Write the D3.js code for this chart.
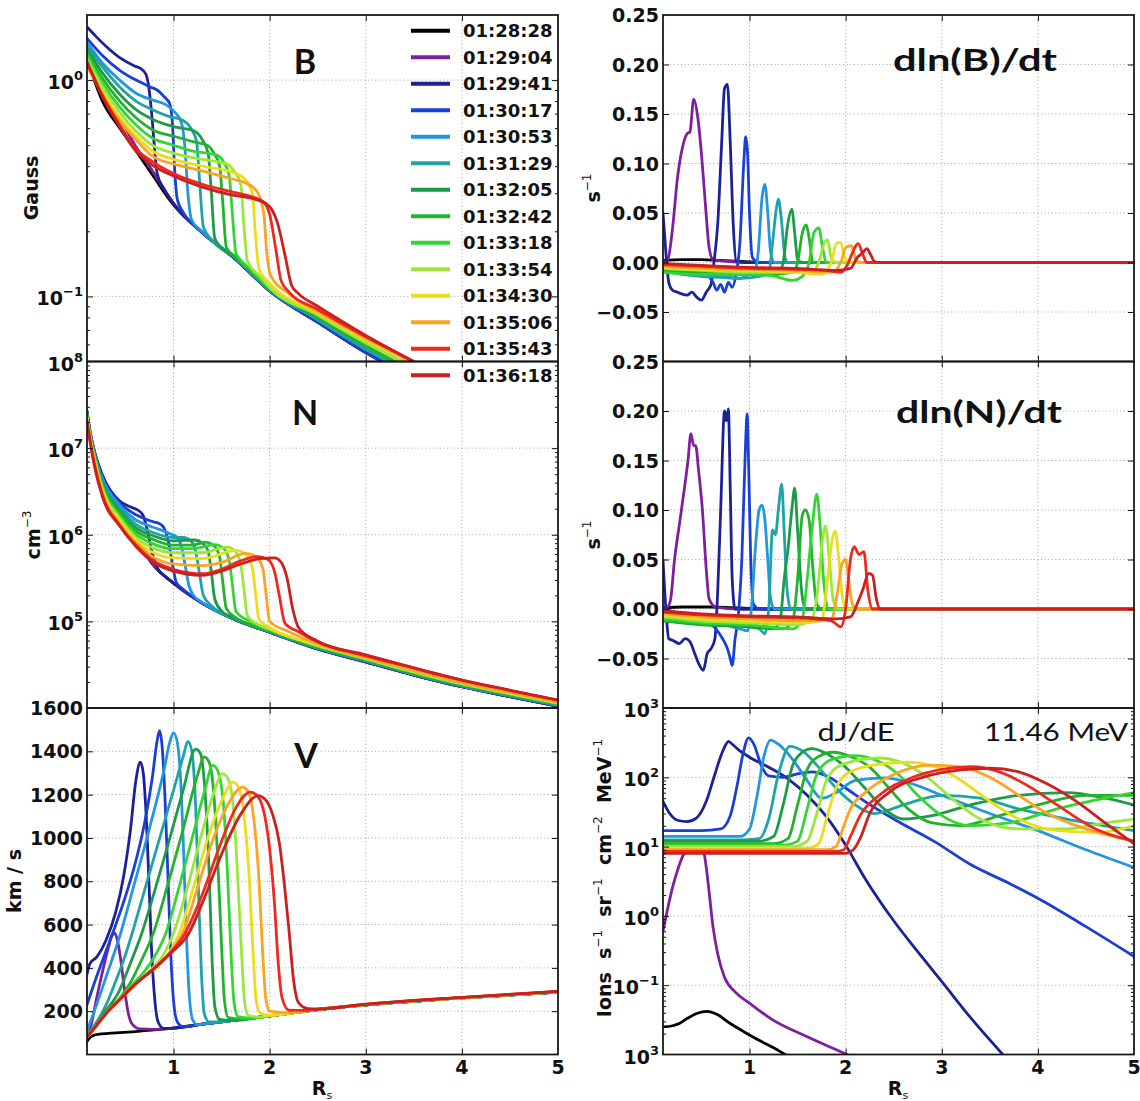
<!DOCTYPE html>
<html><head><meta charset="utf-8">
<script src="https://cdn.jsdelivr.net/npm/d3@7"></script>
<style>body{margin:0;background:#fff}svg{display:block}</style>
</head><body>
<svg id="chart" width="1140" height="1101"></svg>
<script>
// ---------------- DATA ----------------
const times = ["01:28:28","01:29:04","01:29:41","01:30:17","01:30:53","01:31:29","01:32:05","01:32:42","01:33:18","01:33:54","01:34:30","01:35:06","01:35:43","01:36:18"];
const colors = ["#000000","#7d1f9e","#1c2296","#1b3fd6","#2396dc","#1fa3a6","#1e9b46","#23b22c","#35d435","#9be83a","#ecdc1c","#fba323","#ee2a1f","#cc1f1f"];
const xTicks = [1,2,3,4,5];
const xGrid = [1,2,3,4];

const B_ticks = [0.1,1];
const B_labels = [["10","\u22121"],["10","0"]];
const N_ticks = [1e5,1e6,1e7,1e8];
const N_labels = [["10","5"],["10","6"],["10","7"],["10","8"]];
const V_ticks = [200,400,600,800,1000,1200,1400,1600];
const V_labels = ["200","400","600","800","1000","1200","1400","1600"];
const dB_ticks = [-0.05,0,0.05,0.10,0.15,0.20,0.25];
const dB_labels = ["\u22120.05","0.00","0.05","0.10","0.15","0.20","0.25"];
const dN_ticks = [-0.05,0,0.05,0.10,0.15,0.20,0.25];
const dN_labels = ["\u22120.05","0.00","0.05","0.10","0.15","0.20","0.25"];
const J_ticks = [1e-2,1e-1,1,10,100,1000];
const J_labels = [["10","3"],["10","\u22121"],["10","0"],["10","1"],["10","2"],["10","3"]];

const B_data = [
 [[0.1,1.25],[0.26,0.8],[0.44,0.6],[0.61,0.47],[0.78,0.365],[1.0,0.265],[1.3,0.197],[1.65,0.148],[2.0,0.106],[2.5,0.076],[3.0,0.055],[3.5,0.042]],
 [[0.1,1.3],[0.26,0.86],[0.4,0.7],[0.5,0.6],[0.6,0.5],[0.75,0.4],[0.85,0.34],[1.0,0.27],[1.3,0.198],[1.65,0.148],[2.0,0.106],[2.5,0.076],[3.0,0.055],[3.5,0.042]],
 [[0.1,1.76],[0.2,1.58],[0.3,1.43],[0.44,1.27],[0.6,1.16],[0.66,1.13],[0.71,1.07],[0.74,0.95],[0.77,0.72],[0.8,0.5],[0.83,0.37],[0.9,0.315],[1.0,0.268],[1.3,0.197],[1.65,0.148],[2.0,0.106],[2.5,0.076],[3.0,0.055],[3.5,0.042]],
 [[0.1,1.56],[0.26,1.3],[0.44,1.11],[0.61,1.0],[0.76,0.93],[0.83,0.9],[0.9,0.84],[0.96,0.78],[0.99,0.62],[1.01,0.4],[1.04,0.28],[1.1,0.245],[1.3,0.197],[1.65,0.148],[2.0,0.106],[2.5,0.076],[3.0,0.055],[3.5,0.042]],
 [[0.1,1.5],[0.26,1.2],[0.44,1.0],[0.61,0.87],[0.78,0.81],[0.92,0.77],[1.0,0.72],[1.08,0.64],[1.12,0.48],[1.15,0.3],[1.19,0.225],[1.3,0.199],[1.65,0.149],[2.0,0.107],[2.5,0.078],[3.0,0.057],[3.5,0.044]],
 [[0.1,1.45],[0.26,1.15],[0.44,0.93],[0.61,0.8],[0.78,0.73],[0.95,0.68],[1.1,0.65],[1.18,0.6],[1.24,0.52],[1.27,0.35],[1.31,0.21],[1.4,0.182],[1.65,0.15],[2.0,0.107],[2.5,0.078],[3.0,0.057],[3.5,0.044]],
 [[0.1,1.4],[0.26,1.08],[0.44,0.86],[0.61,0.73],[0.78,0.66],[1.0,0.61],[1.22,0.58],[1.3,0.53],[1.36,0.46],[1.39,0.32],[1.43,0.185],[1.5,0.168],[1.65,0.151],[2.0,0.108],[2.5,0.08],[3.0,0.059],[3.5,0.045]],
 [[0.1,1.35],[0.26,1.02],[0.44,0.8],[0.61,0.67],[0.78,0.59],[1.0,0.55],[1.2,0.52],[1.35,0.5],[1.42,0.46],[1.48,0.4],[1.51,0.28],[1.55,0.168],[1.65,0.152],[2.0,0.108],[2.5,0.08],[3.0,0.059],[3.5,0.045]],
 [[0.1,1.3],[0.26,0.97],[0.44,0.75],[0.61,0.62],[0.78,0.54],[1.0,0.5],[1.2,0.47],[1.45,0.45],[1.52,0.42],[1.58,0.36],[1.61,0.25],[1.65,0.158],[1.8,0.134],[2.0,0.109],[2.5,0.082],[3.0,0.061],[3.5,0.047]],
 [[0.1,1.25],[0.26,0.93],[0.44,0.71],[0.61,0.58],[0.78,0.5],[1.0,0.46],[1.3,0.43],[1.55,0.41],[1.63,0.38],[1.7,0.33],[1.73,0.22],[1.77,0.145],[1.9,0.124],[2.0,0.11],[2.5,0.082],[3.0,0.061],[3.5,0.047]],
 [[0.1,1.15],[0.26,0.88],[0.44,0.67],[0.61,0.55],[0.78,0.47],[1.0,0.43],[1.3,0.4],[1.65,0.37],[1.75,0.345],[1.82,0.3],[1.85,0.2],[1.89,0.133],[2.0,0.115],[2.5,0.084],[3.0,0.063],[3.5,0.049]],
 [[0.1,1.18],[0.26,0.86],[0.44,0.65],[0.61,0.53],[0.78,0.445],[1.0,0.41],[1.3,0.38],[1.6,0.35],[1.78,0.33],[1.88,0.3],[1.94,0.24],[1.97,0.16],[2.01,0.125],[2.2,0.103],[2.5,0.085],[3.0,0.064],[3.5,0.049]],
 [[0.1,1.2],[0.26,0.85],[0.44,0.62],[0.61,0.48],[0.78,0.42],[1.0,0.37],[1.3,0.33],[1.6,0.305],[1.8,0.29],[1.93,0.275],[2.0,0.24],[2.06,0.17],[2.12,0.118],[2.2,0.105],[2.5,0.087],[3.0,0.065],[3.5,0.05]],
 [[0.1,1.22],[0.26,0.84],[0.44,0.61],[0.61,0.47],[0.78,0.405],[1.0,0.36],[1.3,0.32],[1.6,0.295],[1.8,0.285],[1.98,0.265],[2.08,0.22],[2.16,0.155],[2.23,0.112],[2.3,0.103],[2.5,0.09],[3.0,0.066],[3.5,0.05]]
];

const N_data = [
 [[0.1,2.6e7],[0.13,1.55e7],[0.18,8.5e6],[0.26,4.7e6],[0.44,2.0e6],[0.61,9.5e5],[0.78,4.6e5],[1.0,2.76e5],[1.3,1.62e5],[1.65,1.04e5],[2.0,7.5e4],[2.5,4.8e4],[3.0,3.4e4],[3.5,2.4e4],[4.0,1.76e4],[4.5,1.35e4],[5.0,1.05e4]],
 [[0.1,2.6e7],[0.13,1.55e7],[0.18,8.6e6],[0.26,4.8e6],[0.35,3.0e6],[0.44,2.1e6],[0.52,1.35e6],[0.6,9.5e5],[0.78,4.6e5],[1.0,2.76e5],[1.3,1.62e5],[1.65,1.04e5],[2.0,7.5e4],[2.5,4.8e4],[3.0,3.4e4],[3.5,2.4e4],[4.0,1.76e4],[4.5,1.35e4],[5.0,1.05e4]],
 [[0.1,2.7e7],[0.13,1.6e7],[0.18,9e6],[0.26,4.9e6],[0.44,2.45e6],[0.55,2.1e6],[0.62,1.95e6],[0.68,1.7e6],[0.73,1.1e6],[0.78,6e5],[0.84,4e5],[0.9,3.4e5],[1.0,2.76e5],[1.3,1.62e5],[1.65,1.04e5],[2.0,7.5e4],[2.5,4.8e4],[3.0,3.4e4],[3.5,2.4e4],[4.0,1.76e4],[4.5,1.35e4],[5.0,1.05e4]],
 [[0.1,2.63e7],[0.13,1.58e7],[0.18,8.8e6],[0.26,4.68e6],[0.44,2.34e6],[0.61,1.7e6],[0.72,1.5e6],[0.8,1.4e6],[0.85,1.35e6],[0.9,1.2e6],[0.95,8e5],[0.99,4.5e5],[1.03,2.8e5],[1.1,2.35e5],[1.3,1.63e5],[1.65,1.04e5],[2.0,7.5e4],[2.5,4.8e4],[3.0,3.4e4],[3.5,2.4e4],[4.0,1.76e4],[4.5,1.35e4],[5.0,1.05e4]],
 [[0.1,2.57e7],[0.13,1.55e7],[0.18,8.5e6],[0.26,4.47e6],[0.44,2.19e6],[0.61,1.48e6],[0.78,1.23e6],[0.9,1.1e6],[0.97,1.02e6],[1.03,9.5e5],[1.08,7.5e5],[1.12,4.5e5],[1.16,2.6e5],[1.2,2.05e5],[1.3,1.65e5],[1.65,1.05e5],[2.0,7.6e4],[2.5,4.9e4],[3.0,3.5e4],[3.5,2.45e4],[4.0,1.8e4],[4.5,1.38e4],[5.0,1.08e4]],
 [[0.1,2.5e7],[0.13,1.5e7],[0.18,8.3e6],[0.26,4.17e6],[0.44,2.04e6],[0.61,1.32e6],[0.78,1.07e6],[1.0,9.3e5],[1.1,9.3e5],[1.18,8.5e5],[1.23,6.5e5],[1.27,3.6e5],[1.31,2e5],[1.4,1.5e5],[1.65,1.05e5],[2.0,7.6e4],[2.5,4.9e4],[3.0,3.5e4],[3.5,2.45e4],[4.0,1.8e4],[4.5,1.38e4],[5.0,1.08e4]],
 [[0.1,2.45e7],[0.13,1.48e7],[0.18,8.1e6],[0.26,3.98e6],[0.44,1.9e6],[0.61,1.2e6],[0.78,9.8e5],[1.0,8.5e5],[1.22,8.7e5],[1.3,8e5],[1.36,6.5e5],[1.39,4e5],[1.43,1.8e5],[1.5,1.32e5],[1.65,1.07e5],[2.0,7.8e4],[2.5,5e4],[3.0,3.6e4],[3.5,2.5e4],[4.0,1.85e4],[4.5,1.42e4],[5.0,1.1e4]],
 [[0.1,2.4e7],[0.13,1.45e7],[0.18,7.9e6],[0.26,3.8e6],[0.44,1.78e6],[0.61,1.1e6],[0.78,8.9e5],[1.0,7.6e5],[1.2,7.6e5],[1.33,8.2e5],[1.42,7.5e5],[1.48,5.5e5],[1.51,3e5],[1.55,1.4e5],[1.65,1.1e5],[2.0,7.8e4],[2.5,5e4],[3.0,3.6e4],[3.5,2.5e4],[4.0,1.85e4],[4.5,1.42e4],[5.0,1.1e4]],
 [[0.1,2.34e7],[0.13,1.42e7],[0.18,7.7e6],[0.26,3.63e6],[0.44,1.66e6],[0.61,1.02e6],[0.78,7.9e5],[1.0,6.9e5],[1.2,6.9e5],[1.43,7.7e5],[1.52,7e5],[1.58,5e5],[1.61,2.8e5],[1.65,1.3e5],[1.8,1e5],[2.0,8e4],[2.5,5.2e4],[3.0,3.7e4],[3.5,2.6e4],[4.0,1.9e4],[4.5,1.46e4],[5.0,1.13e4]],
 [[0.1,2.29e7],[0.13,1.38e7],[0.18,7.4e6],[0.26,3.39e6],[0.44,1.55e6],[0.61,9.3e5],[0.78,7.1e5],[1.0,6.2e5],[1.3,6.2e5],[1.55,7.2e5],[1.64,6.5e5],[1.7,4.5e5],[1.73,2.5e5],[1.77,1.15e5],[1.9,9e4],[2.0,8.1e4],[2.5,5.2e4],[3.0,3.7e4],[3.5,2.6e4],[4.0,1.9e4],[4.5,1.46e4],[5.0,1.13e4]],
 [[0.1,2.24e7],[0.13,1.35e7],[0.18,7.1e6],[0.26,3.24e6],[0.44,1.45e6],[0.61,8.7e5],[0.78,6.3e5],[1.0,5.4e5],[1.3,5.3e5],[1.65,6.6e5],[1.75,6e5],[1.82,4.2e5],[1.85,2.3e5],[1.89,1.05e5],[2.0,8.5e4],[2.5,5.4e4],[3.0,3.8e4],[3.5,2.7e4],[4.0,1.95e4],[4.5,1.5e4],[5.0,1.17e4]],
 [[0.1,2.14e7],[0.13,1.3e7],[0.18,6.8e6],[0.26,3.09e6],[0.44,1.35e6],[0.61,8.1e5],[0.78,5.6e5],[1.0,4.6e5],[1.3,4.4e5],[1.5,4.8e5],[1.75,6.1e5],[1.86,5.6e5],[1.93,4e5],[1.96,2.2e5],[2.0,1e5],[2.2,7.6e4],[2.5,5.5e4],[3.0,3.8e4],[3.5,2.7e4],[4.0,1.95e4],[4.5,1.5e4],[5.0,1.17e4]],
 [[0.1,2.09e7],[0.13,1.25e7],[0.18,6.3e6],[0.26,2.88e6],[0.44,1.29e6],[0.61,7.6e5],[0.78,5.1e5],[1.0,4e5],[1.3,3.55e5],[1.5,4e5],[1.7,5e5],[1.88,5.6e5],[1.98,5.2e5],[2.05,3.8e5],[2.1,2e5],[2.16,9.5e4],[2.3,7.6e4],[2.5,5.8e4],[3.0,4e4],[3.5,2.9e4],[4.0,2.1e4],[4.5,1.6e4],[5.0,1.23e4]],
 [[0.1,2.04e7],[0.13,1.22e7],[0.18,6e6],[0.26,2.75e6],[0.44,1.26e6],[0.61,7.3e5],[0.78,4.9e5],[1.0,3.8e5],[1.3,3.4e5],[1.5,3.8e5],[1.7,4.6e5],[1.9,5.3e5],[2.05,5.4e5],[2.12,4.8e5],[2.18,3.2e5],[2.24,1.4e5],[2.3,8.5e4],[2.5,5.9e4],[3.0,4.1e4],[3.5,2.9e4],[4.0,2.1e4],[4.5,1.6e4],[5.0,1.23e4]]
];

const V_data = [
 [[0.1,60],[0.13,78],[0.18,90],[0.25,95],[0.4,100],[0.6,106],[0.8,114],[1.0,122],[1.3,140],[1.6,156],[2.0,178],[2.5,207],[3.0,229],[4.0,261],[5.0,288]],
 [[0.1,80],[0.15,150],[0.2,260],[0.26,380],[0.32,490],[0.36,550],[0.39,560],[0.42,520],[0.45,440],[0.49,300],[0.53,190],[0.57,140],[0.65,118],[0.8,116],[1.0,122],[1.3,140],[1.6,156],[2.0,178],[2.5,207],[3.0,229],[4.0,261],[5.0,288]],
 [[0.1,370],[0.13,420],[0.2,450],[0.3,530],[0.4,660],[0.48,820],[0.55,1030],[0.61,1270],[0.655,1350],[0.685,1300],[0.71,1150],[0.74,850],[0.77,500],[0.8,280],[0.84,150],[0.9,120],[1.0,122],[1.3,140],[1.6,156],[2.0,178],[2.5,207],[3.0,229],[4.0,261],[5.0,288]],
 [[0.1,230],[0.2,360],[0.3,480],[0.4,600],[0.5,730],[0.6,880],[0.7,1070],[0.78,1280],[0.83,1450],[0.855,1495],[0.88,1430],[0.91,1200],[0.94,850],[0.97,480],[1.0,250],[1.04,150],[1.1,128],[1.3,140],[1.6,156],[2.0,178],[2.5,207],[3.0,229],[4.0,261],[5.0,288]],
 [[0.1,110],[0.2,230],[0.3,360],[0.45,560],[0.6,800],[0.7,960],[0.8,1130],[0.9,1310],[0.96,1440],[1.0,1485],[1.04,1440],[1.07,1300],[1.1,1000],[1.13,600],[1.16,300],[1.2,160],[1.25,137],[1.3,140],[1.6,156],[2.0,178],[2.5,207],[3.0,229],[4.0,261],[5.0,288]],
 [[0.1,90],[0.2,150],[0.3,230],[0.4,340],[0.5,460],[0.57,560],[0.7,760],[0.85,990],[1.0,1220],[1.1,1375],[1.15,1446],[1.19,1400],[1.23,1150],[1.26,750],[1.29,380],[1.32,190],[1.37,150],[1.5,151],[1.6,156],[2.0,178],[2.5,207],[3.0,229],[4.0,261],[5.0,288]],
 [[0.1,85],[0.2,140],[0.3,205],[0.42,280],[0.55,420],[0.67,560],[0.8,750],[0.95,980],[1.1,1220],[1.23,1410],[1.28,1390],[1.33,1200],[1.37,850],[1.4,450],[1.43,220],[1.48,162],[1.6,157],[2.0,178],[2.5,207],[3.0,229],[4.0,261],[5.0,288]],
 [[0.1,82],[0.2,137],[0.3,195],[0.45,265],[0.55,330],[0.65,420],[0.79,560],[0.95,800],[1.1,1040],[1.25,1290],[1.32,1374],[1.37,1350],[1.42,1200],[1.46,900],[1.5,500],[1.53,250],[1.57,170],[1.7,163],[2.0,179],[2.5,207],[3.0,229],[4.0,261],[5.0,289]],
 [[0.1,80],[0.2,136],[0.3,192],[0.45,260],[0.6,335],[0.7,385],[0.8,450],[0.92,560],[1.05,760],[1.2,1010],[1.32,1210],[1.41,1335],[1.46,1310],[1.52,1150],[1.56,850],[1.6,450],[1.63,240],[1.67,175],[1.8,168],[2.0,179],[2.5,207],[3.0,230],[4.0,262],[5.0,289]],
 [[0.1,80],[0.2,135],[0.3,190],[0.45,258],[0.62,333],[0.75,385],[0.88,450],[1.0,560],[1.15,780],[1.3,1030],[1.42,1210],[1.51,1297],[1.57,1270],[1.63,1100],[1.67,800],[1.71,450],[1.74,240],[1.78,180],[1.9,173],[2.0,179],[2.5,208],[3.0,230],[4.0,262],[5.0,289]],
 [[0.1,80],[0.2,135],[0.3,190],[0.45,258],[0.62,332],[0.79,393],[0.95,465],[1.06,560],[1.2,760],[1.35,990],[1.5,1170],[1.62,1258],[1.68,1230],[1.74,1080],[1.79,800],[1.83,450],[1.86,250],[1.9,192],[2.0,181],[2.5,208],[3.0,230],[4.0,262],[5.0,290]],
 [[0.1,80],[0.2,135],[0.3,190],[0.45,258],[0.62,332],[0.79,393],[0.97,475],[1.1,565],[1.25,770],[1.4,980],[1.55,1140],[1.72,1235],[1.78,1210],[1.84,1070],[1.89,800],[1.93,450],[1.96,260],[2.0,200],[2.2,192],[2.5,208],[3.0,231],[4.0,263],[5.0,290]],
 [[0.1,80],[0.2,135],[0.3,190],[0.45,258],[0.62,332],[0.79,395],[0.97,472],[1.12,560],[1.3,740],[1.5,985],[1.65,1140],[1.8,1212],[1.88,1190],[1.95,1100],[2.0,950],[2.05,700],[2.09,420],[2.13,260],[2.2,205],[2.4,204],[2.5,209],[3.0,231],[4.0,263],[5.0,291]],
 [[0.1,80],[0.2,135],[0.3,190],[0.45,258],[0.62,332],[0.79,393],[0.97,468],[1.16,560],[1.3,700],[1.5,925],[1.7,1110],[1.88,1195],[1.95,1180],[2.03,1110],[2.1,980],[2.15,800],[2.2,580],[2.25,340],[2.3,240],[2.4,212],[2.5,210],[3.0,232],[4.0,264],[5.0,292]]
];

const dlnB_data = [
 [[0.1,0.002],[0.3,0.003],[0.5,0.003],[0.7,0.002],[0.9,0.001],[1.2,0],[5,0]],
 [[0.1,0.0],[0.15,0.003],[0.2,0.035],[0.25,0.085],[0.3,0.115],[0.35,0.13],[0.38,0.132],[0.42,0.165],[0.46,0.148],[0.5,0.11],[0.54,0.06],[0.58,0.015],[0.62,0.003],[0.8,0.001],[1.0,0],[5,0]],
 [[0.1,0.05],[0.13,0.01],[0.16,-0.02],[0.2,-0.028],[0.25,-0.03],[0.3,-0.032],[0.35,-0.033],[0.4,-0.03],[0.45,-0.035],[0.5,-0.038],[0.55,-0.03],[0.6,-0.022],[0.63,0.0],[0.67,0.04],[0.71,0.12],[0.74,0.176],[0.77,0.18],[0.8,0.12],[0.83,0.04],[0.86,0.002],[0.95,0],[5,0]],
 [[0.1,0.0],[0.2,-0.005],[0.4,-0.008],[0.55,-0.012],[0.62,-0.02],[0.66,-0.028],[0.7,-0.022],[0.74,-0.03],[0.78,-0.02],[0.82,-0.025],[0.86,-0.012],[0.9,0.02],[0.94,0.1],[0.96,0.127],[0.98,0.11],[1.0,0.05],[1.03,0.005],[1.1,0],[5,0]],
 [[0.1,-0.005],[0.3,-0.01],[0.5,-0.012],[0.7,-0.014],[0.9,-0.016],[1.0,-0.012],[1.05,-0.01],[1.09,0.01],[1.13,0.065],[1.16,0.079],[1.19,0.05],[1.22,0.01],[1.26,0.0],[5,0]],
 [[0.1,-0.008],[0.3,-0.012],[0.5,-0.014],[0.7,-0.015],[0.9,-0.016],[1.1,-0.014],[1.2,-0.01],[1.24,0.02],[1.28,0.055],[1.3,0.064],[1.33,0.045],[1.37,0.005],[1.4,0],[5,0]],
 [[0.1,-0.006],[0.4,-0.01],[0.8,-0.012],[1.1,-0.012],[1.3,-0.012],[1.35,0.0],[1.4,0.04],[1.44,0.054],[1.47,0.03],[1.5,0.003],[1.55,0],[5,0]],
 [[0.1,-0.008],[0.4,-0.01],[0.8,-0.01],[1.2,-0.012],[1.45,-0.01],[1.5,0.0],[1.55,0.03],[1.59,0.038],[1.62,0.025],[1.66,0.0],[1.7,0],[5,0]],
 [[0.1,-0.01],[0.4,-0.012],[0.8,-0.012],[1.2,-0.013],[1.45,-0.018],[1.55,-0.014],[1.62,0.0],[1.67,0.03],[1.72,0.035],[1.76,0.015],[1.8,0.0],[5,0]],
 [[0.1,-0.006],[0.5,-0.008],[1.0,-0.01],[1.4,-0.01],[1.65,-0.01],[1.72,0.0],[1.78,0.02],[1.81,0.023],[1.85,0.005],[1.9,0],[5,0]],
 [[0.1,-0.005],[0.5,-0.007],[1.0,-0.008],[1.5,-0.01],[1.75,-0.012],[1.85,0.0],[1.91,0.02],[1.95,0.02],[1.99,0.005],[2.05,0],[5,0]],
 [[0.1,-0.004],[0.5,-0.006],[1.0,-0.007],[1.5,-0.008],[1.85,-0.01],[1.95,0.0],[2.0,0.015],[2.06,0.017],[2.1,0.005],[2.15,0],[5,0]],
 [[0.1,-0.002],[0.5,-0.004],[1.0,-0.006],[1.5,-0.007],[1.8,-0.008],[1.95,-0.01],[2.02,-0.002],[2.08,0.012],[2.13,0.019],[2.18,0.008],[2.22,0.0],[2.3,0],[5,0]],
 [[0.1,-0.001],[0.5,-0.003],[1.0,-0.005],[1.5,-0.006],[1.9,-0.008],[2.05,-0.006],[2.12,0.005],[2.18,0.01],[2.22,0.014],[2.26,0.008],[2.3,0.001],[2.35,0],[5,0]]
];

const dlnN_data = [
 [[0.1,0.001],[0.3,0.002],[0.6,0.002],[0.9,0.001],[1.2,0],[5,0]],
 [[0.1,0.0],[0.15,0.002],[0.18,0.01],[0.22,0.05],[0.27,0.085],[0.32,0.12],[0.36,0.15],[0.39,0.177],[0.42,0.165],[0.44,0.165],[0.47,0.14],[0.51,0.1],[0.55,0.04],[0.58,0.01],[0.65,0.002],[0.9,0],[5,0]],
 [[0.1,0.05],[0.13,0.0],[0.16,-0.03],[0.21,-0.032],[0.27,-0.035],[0.33,-0.03],[0.38,-0.033],[0.43,-0.045],[0.47,-0.055],[0.52,-0.062],[0.56,-0.045],[0.6,-0.04],[0.64,-0.03],[0.67,0.02],[0.7,0.1],[0.74,0.2],[0.76,0.19],[0.78,0.202],[0.8,0.12],[0.82,0.03],[0.85,0.0],[0.95,0],[5,0]],
 [[0.1,0.0],[0.3,-0.005],[0.5,-0.01],[0.65,-0.02],[0.72,-0.03],[0.77,-0.04],[0.8,-0.05],[0.82,-0.057],[0.85,-0.03],[0.88,-0.01],[0.92,0.05],[0.96,0.17],[0.975,0.197],[0.99,0.15],[1.01,0.06],[1.04,0.005],[1.1,0],[5,0]],
 [[0.1,-0.008],[0.4,-0.012],[0.7,-0.015],[0.9,-0.02],[0.98,-0.022],[1.02,0.0],[1.06,0.06],[1.1,0.1],[1.13,0.105],[1.16,0.09],[1.19,0.05],[1.22,0.01],[1.26,0.0],[5,0]],
 [[0.1,-0.01],[0.4,-0.014],[0.7,-0.016],[1.0,-0.018],[1.1,-0.02],[1.16,-0.025],[1.2,0.0],[1.24,0.08],[1.27,0.075],[1.3,0.1],[1.335,0.126],[1.36,0.08],[1.39,0.02],[1.43,0.0],[5,0]],
 [[0.1,-0.012],[0.5,-0.016],[1.0,-0.018],[1.25,-0.02],[1.32,-0.01],[1.36,0.03],[1.4,0.06],[1.44,0.1],[1.47,0.122],[1.5,0.08],[1.54,0.02],[1.58,0.0],[5,0]],
 [[0.1,-0.012],[0.5,-0.015],[1.0,-0.017],[1.35,-0.02],[1.45,-0.012],[1.5,0.03],[1.55,0.095],[1.58,0.1],[1.62,0.09],[1.66,0.04],[1.7,0.005],[1.75,0],[5,0]],
 [[0.1,-0.01],[0.5,-0.014],[1.0,-0.016],[1.45,-0.02],[1.55,-0.01],[1.6,0.03],[1.65,0.08],[1.7,0.116],[1.73,0.09],[1.77,0.03],[1.82,0.0],[5,0]],
 [[0.1,-0.008],[0.5,-0.012],[1.0,-0.014],[1.5,-0.016],[1.65,-0.01],[1.71,0.02],[1.76,0.07],[1.79,0.084],[1.83,0.05],[1.87,0.01],[1.92,0],[5,0]],
 [[0.1,-0.006],[0.5,-0.01],[1.0,-0.012],[1.5,-0.014],[1.75,-0.012],[1.8,0.02],[1.86,0.07],[1.89,0.079],[1.93,0.05],[1.97,0.01],[2.02,0],[5,0]],
 [[0.1,-0.005],[0.5,-0.008],[1.0,-0.01],[1.5,-0.012],[1.85,-0.01],[1.92,0.02],[1.96,0.045],[2.0,0.05],[2.03,0.03],[2.07,0.005],[2.12,0],[5,0]],
 [[0.1,-0.003],[0.5,-0.006],[1.0,-0.008],[1.5,-0.009],[1.85,-0.012],[1.95,-0.018],[2.0,0.0],[2.05,0.05],[2.09,0.063],[2.14,0.055],[2.19,0.058],[2.23,0.02],[2.28,0.0],[5,0]],
 [[0.1,-0.002],[0.5,-0.005],[1.0,-0.007],[1.5,-0.008],[1.9,-0.01],[2.05,-0.008],[2.12,0.005],[2.18,0.02],[2.24,0.036],[2.28,0.034],[2.32,0.01],[2.36,0.0],[5,0]]
];

const J_data = [
 [[0.1,0.025],[0.2,0.026],[0.27,0.028],[0.35,0.033],[0.45,0.039],[0.56,0.042],[0.66,0.038],[0.8,0.028],[0.95,0.021],[1.1,0.016],[1.25,0.0125],[1.4,0.0095],[1.5,0.008]],
 [[0.1,0.6],[0.15,1.3],[0.2,2.6],[0.25,4.5],[0.3,7],[0.36,8.8],[0.45,9.2],[0.52,8.5],[0.55,5],[0.58,2.2],[0.62,0.7],[0.67,0.28],[0.74,0.13],[0.85,0.08],[1.0,0.055],[1.22,0.033],[1.6,0.018],[1.98,0.0105],[2.1,0.0088]],
 [[0.1,45],[0.17,30],[0.25,24],[0.35,23],[0.45,26],[0.55,45],[0.63,100],[0.7,200],[0.75,290],[0.78,330],[0.82,300],[0.9,240],[1.0,195],[1.2,140],[1.4,95],[1.6,55],[1.8,27],[2.0,10.5],[2.2,3.5],[2.5,0.85],[2.8,0.25],[3.03,0.1],[3.3,0.034],[3.65,0.0095]],
 [[0.1,17],[0.3,17],[0.5,17],[0.7,18],[0.8,28],[0.87,75],[0.93,210],[0.99,370],[1.05,290],[1.12,150],[1.2,105],[1.35,100],[1.5,112],[1.65,120],[1.8,105],[2.0,70],[2.2,45],[2.5,25],[2.93,11.7],[3.3,5.5],[3.69,3.0],[4.0,1.8],[4.5,0.7],[5.0,0.26]],
 [[0.1,14],[0.5,14],[0.9,14],[1.0,18],[1.08,55],[1.15,200],[1.22,345],[1.3,300],[1.45,180],[1.6,90],[1.75,50],[1.9,60],[2.1,90],[2.4,98],[2.7,80],[3.0,55],[3.5,30],[4.0,17],[4.5,9],[5.0,5]],
 [[0.1,12.5],[0.9,12.5],[1.1,13],[1.2,25],[1.3,110],[1.42,280],[1.55,240],[1.7,150],[1.9,70],[2.1,40],[2.3,30],[2.6,40],[3.0,55],[3.4,50],[3.8,35],[4.3,25],[5.0,17]],
 [[0.1,12],[1.1,12],[1.25,14],[1.35,40],[1.45,150],[1.55,230],[1.65,260],[1.8,220],[2.0,140],[2.2,70],[2.4,35],[2.6,25],[2.9,28],[3.3,40],[3.8,55],[4.3,60],[4.7,50],[5.0,40]],
 [[0.1,11],[1.25,11],[1.4,13],[1.5,40],[1.6,130],[1.72,200],[1.87,230],[2.05,200],[2.25,140],[2.45,70],[2.65,35],[2.9,22],[3.2,20],[3.6,28],[4.0,40],[4.5,55],[5.0,55]],
 [[0.1,10.5],[1.35,10.5],[1.5,12],[1.6,35],[1.7,110],[1.85,180],[2.1,205],[2.3,180],[2.55,110],[2.75,55],[3.0,28],[3.3,20],[3.7,22],[4.2,35],[4.7,50],[5.0,60]],
 [[0.1,10],[1.45,10],[1.6,12],[1.7,30],[1.8,90],[1.95,150],[2.35,190],[2.6,160],[2.85,100],[3.1,50],[3.4,25],[3.8,18],[4.3,18],[4.7,22],[5.0,25]],
 [[0.1,9.5],[1.6,9.5],[1.72,11],[1.8,25],[1.9,70],[2.05,120],[2.35,155],[2.65,165],[2.95,140],[3.2,90],[3.5,45],[3.8,25],[4.2,17],[4.6,16],[5.0,20]],
 [[0.1,9],[1.8,9],[1.9,10],[1.97,18],[2.05,35],[2.2,60],[2.5,110],[2.9,150],[3.2,140],[3.5,100],[3.8,55],[4.1,30],[4.5,18],[5.0,12]],
 [[0.1,8.5],[1.9,8.5],[1.98,9],[2.05,14],[2.15,28],[2.35,55],[2.7,100],[3.0,130],[3.3,142],[3.6,120],[3.9,75],[4.2,40],[4.6,18],[5.0,12]],
 [[0.1,8],[2.0,8],[2.08,9],[2.15,13],[2.25,30],[2.45,60],[2.8,100],[3.2,128],[3.5,135],[3.8,120],[4.1,80],[4.4,45],[4.7,22],[5.0,11]]
];

// ---------------- LAYOUT ----------------
const svg = d3.select("#chart");
const defs = svg.append("defs");
const XDOM = [0.1, 5];
const COLS = [[87,558],[663,1134]];
const ROWS = [[15,361.5],[361.5,708],[708,1054.5]];
const TICKFONT = "DejaVu Sans";
const TICKSIZE = 19;

const panels = [
 {id:"B", col:0,row:0,log:true, domain:[0.05,2], data:B_data, ticks:B_ticks, labels:B_labels, grid:[0.1,1]},
 {id:"N", col:0,row:1,log:true, domain:[1e4,1e8], data:N_data, ticks:N_ticks, labels:N_labels, grid:[1e5,1e6,1e7]},
 {id:"V", col:0,row:2,log:false,domain:[0,1600], data:V_data, ticks:V_ticks, labels:V_labels, grid:[200,400,600,800,1000,1200,1400]},
 {id:"dB",col:1,row:0,log:false,domain:[-0.1,0.25], data:dlnB_data, ticks:dB_ticks, labels:dB_labels, grid:[-0.05,0,0.05,0.1,0.15,0.2]},
 {id:"dN",col:1,row:1,log:false,domain:[-0.1,0.25], data:dlnN_data, ticks:dN_ticks, labels:dN_labels, grid:[-0.05,0,0.05,0.1,0.15,0.2]},
 {id:"J", col:1,row:2,log:true, domain:[1e-2,1e3], data:J_data, ticks:J_ticks, labels:J_labels, grid:[0.1,1,10,100]}
];

const gGrid = svg.append("g"), gLines = svg.append("g"), gFrame = svg.append("g"), gText = svg.append("g");

function minorTicks(dom){
  const out=[]; const lo=Math.floor(Math.log10(dom[0])), hi=Math.ceil(Math.log10(dom[1]));
  for(let e=lo;e<hi;e++) for(let k=2;k<=9;k++){const v=k*Math.pow(10,e); if(v>dom[0]&&v<dom[1]) out.push(v);}
  return out;
}

panels.forEach(p=>{
  const [x0,x1]=COLS[p.col], [y0,y1]=ROWS[p.row];
  const x=d3.scaleLinear().domain(XDOM).range([x0,x1]);
  const y=(p.log?d3.scaleLog():d3.scaleLinear()).domain(p.domain).range([y1,y0]);
  gGrid.append("g").selectAll("line").data(xGrid).join("line")
    .attr("x1",d=>x(d)).attr("x2",d=>x(d)).attr("y1",y0).attr("y2",y1);
  gGrid.append("g").selectAll("line").data(p.grid).join("line")
    .attr("x1",x0).attr("x2",x1).attr("y1",d=>y(d)).attr("y2",d=>y(d));
  defs.append("clipPath").attr("id","clip"+p.id).append("rect")
    .attr("x",x0).attr("y",y0).attr("width",x1-x0).attr("height",y1-y0);
  const line=d3.line().x(d=>x(d[0])).y(d=>y(d[1])).curve(d3.curveMonotoneX);
  gLines.append("g").attr("clip-path","url(#clip"+p.id+")")
    .selectAll("path").data(p.data).join("path")
    .attr("d",line).attr("fill","none").attr("stroke",(d,i)=>colors[i])
    .attr("stroke-width",2.8).attr("stroke-linejoin","round").attr("stroke-linecap","round");
  const mk=(axis,tr)=>{const a=gFrame.append("g").attr("transform",tr).call(axis);a.select(".domain").remove();a.selectAll("line").attr("stroke","#111");a.selectAll("text").remove();};
  const inner=p.ticks.filter(t=>t>p.domain[0]&&t<p.domain[1]);
  mk(d3.axisLeft(y).tickValues(inner).tickSize(-6),`translate(${x0},0)`);
  mk(d3.axisRight(y).tickValues(inner).tickSize(-6),`translate(${x1},0)`);
  if(p.log){
    mk(d3.axisLeft(y).tickValues(minorTicks(p.domain)).tickSize(-3),`translate(${x0},0)`);
    mk(d3.axisRight(y).tickValues(minorTicks(p.domain)).tickSize(-3),`translate(${x1},0)`);
  }
  mk(d3.axisBottom(x).tickValues(xGrid).tickSize(-6),`translate(0,${y1})`);
  mk(d3.axisTop(x).tickValues(xGrid).tickSize(-6),`translate(0,${y0})`);
  gFrame.append("rect").attr("x",x0).attr("y",y0).attr("width",x1-x0).attr("height",y1-y0)
    .attr("fill","none").attr("stroke","#1a1a1a").attr("stroke-width",1.8);
  p.ticks.forEach((t,i)=>{
    const lab=p.labels[i]; const ty=y(t);
    const txt=gText.append("text").attr("x",x0-4).attr("text-anchor","end")
      .attr("font-family",TICKFONT).attr("font-weight","bold").attr("font-size",TICKSIZE).attr("fill","#111");
    if(Array.isArray(lab)){
      txt.attr("y",ty+9);
      txt.append("tspan").text(lab[0]);
      txt.append("tspan").attr("font-size",13).attr("dy",-9).text(lab[1]);
    } else {
      txt.attr("y",ty+7).text(lab);
    }
  });
  if(p.row===2){
    gText.append("g").selectAll("text").data(xTicks).join("text")
      .attr("x",d=>x(d)).attr("y",y1+19.5).attr("text-anchor","middle")
      .attr("font-family",TICKFONT).attr("font-weight","bold").attr("font-size",TICKSIZE).attr("fill","#111")
      .text(d=>d);
  }
});

gGrid.selectAll("line").attr("stroke","#9a9a9a").attr("stroke-width",0.9).attr("stroke-dasharray","1,2.6");

// ---------------- TEXT ----------------
function rotLabel(xb, yc, parts){
  const t=gText.append("text").attr("transform",`translate(${xb},${yc}) rotate(-90)`)
    .attr("text-anchor","middle").attr("font-family",TICKFONT).attr("font-size",19).attr("fill","#111")
    .attr("xml:space","preserve").style("white-space","pre");
  parts.forEach(pt=>{
    const s=t.append("tspan").text(pt.t);
    if(pt.sup){s.attr("font-size",12).attr("font-weight","normal").attr("dy",-9);}
    else {s.attr("font-weight","bold"); if(pt.back) s.attr("dy",9);}
  });
  return t;
}
rotLabel(38,188,[{t:"Gauss"}]);
rotLabel(40,535,[{t:"cm"},{t:"\u22123",sup:true}]);
rotLabel(21,881,[{t:"km / s"}]);
rotLabel(600,188,[{t:"s"},{t:"\u22121",sup:true}]);
rotLabel(600,535,[{t:"s"},{t:"\u22121",sup:true}]);
rotLabel(611,878,[{t:"Ions  s"},{t:"\u22121",sup:true},{t:"  sr",back:true},{t:"\u22121",sup:true},{t:"  cm",back:true},{t:"\u22122",sup:true},{t:"  MeV",back:true},{t:"\u22121",sup:true}]);

function xLabel(cx){
  const t=gText.append("text").attr("x",cx).attr("y",1095).attr("text-anchor","middle")
    .attr("font-family",TICKFONT).attr("font-weight","bold").attr("font-size",19).attr("fill","#111");
  t.append("tspan").text("R");
  t.append("tspan").attr("font-size",11).attr("font-weight","normal").attr("dy",4).text("s");
}
xLabel(322); xLabel(898);

const titles = [
 {t:"B",x:305,y:74,size:34,w:"bold",len:null},
 {t:"N",x:305,y:425,size:34,w:"bold",len:null},
 {t:"V",x:306,y:768,size:34,w:"bold",len:null},
 {t:"dln(B)/dt",x:975,y:71,size:31,w:"bold",len:164},
 {t:"dln(N)/dt",x:979,y:423,size:31,w:"bold",len:166},
 {t:"dJ/dE",x:856,y:741,size:25,w:"normal",len:77},
 {t:"11.46 MeV",x:1056,y:741,size:25,w:"normal",len:144}
];
const tsel = gText.append("g").selectAll("text").data(titles).join("text")
  .attr("x",d=>d.x).attr("y",d=>d.y).attr("text-anchor","middle")
  .attr("font-family","Lato").attr("font-weight",d=>d.w).attr("font-size",d=>d.size)
  .attr("fill","#111").text(d=>d.t);
tsel.filter(d=>d.len).attr("textLength",d=>d.len).attr("lengthAdjust","spacingAndGlyphs");

// ---------------- LEGEND ----------------
const leg = svg.append("g");
times.forEach((tm,i)=>{
  const ly=30.7+i*26.5;
  leg.append("line").attr("x1",411).attr("x2",450).attr("y1",ly).attr("y2",ly)
    .attr("stroke",colors[i]).attr("stroke-width",4);
  leg.append("text").attr("x",463).attr("y",ly+6.5).attr("font-family",TICKFONT)
    .attr("font-weight","bold").attr("font-size",18).attr("fill","#111").text(tm);
});
</script>
</body></html>
